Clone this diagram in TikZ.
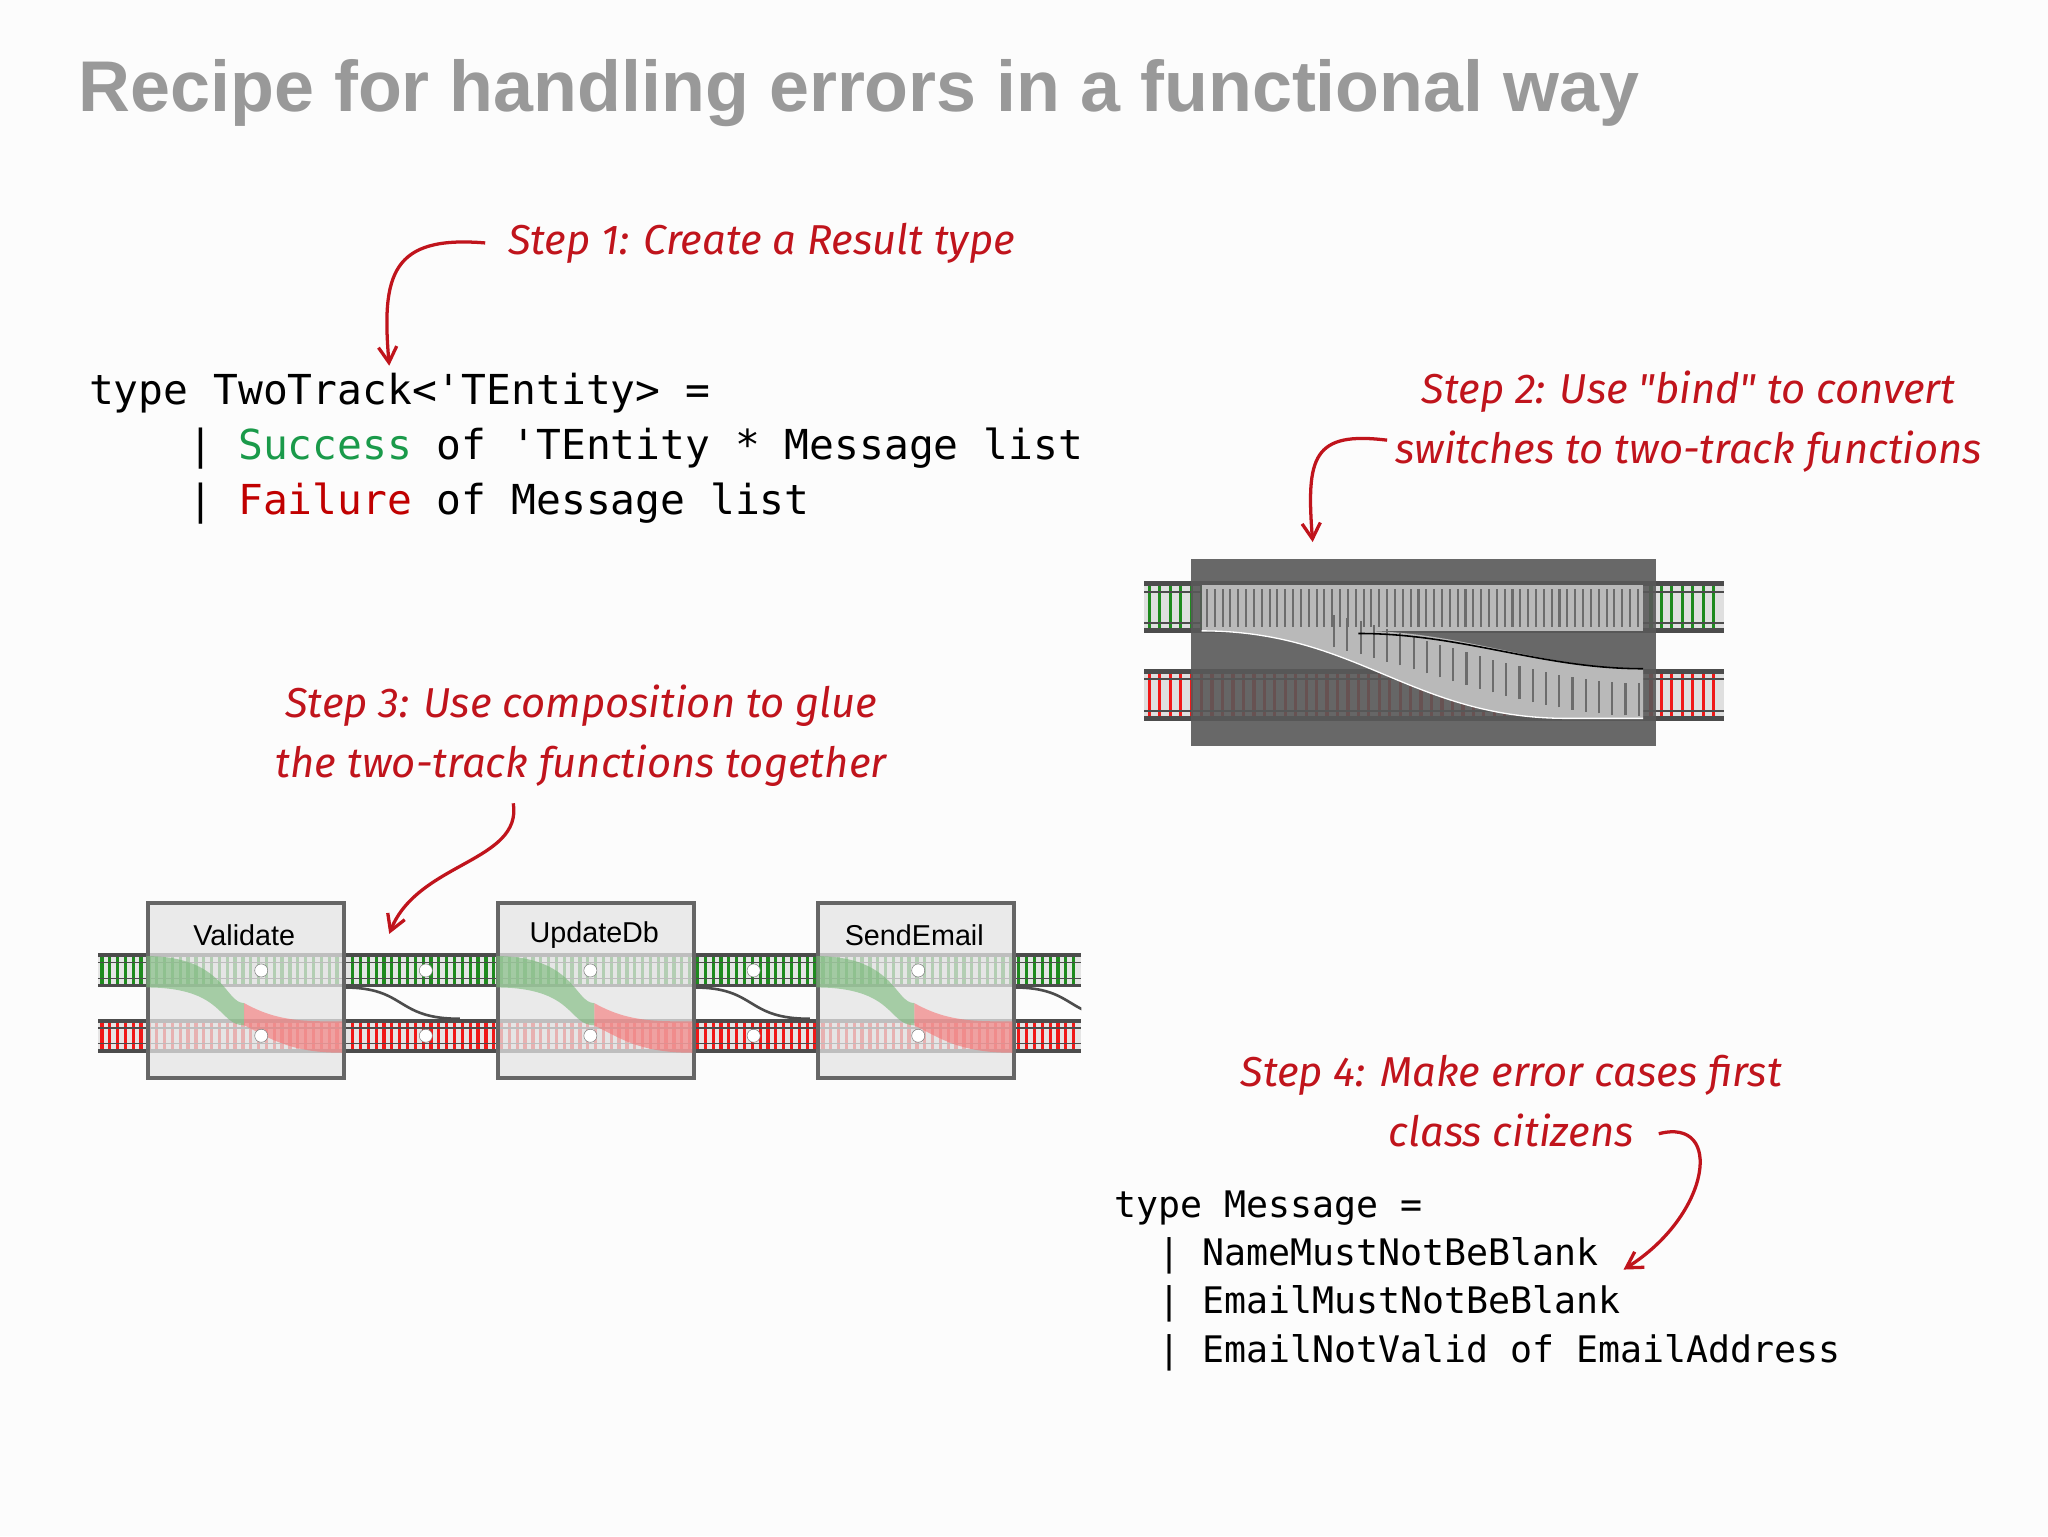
\documentclass[tikz,border=0pt]{standalone}
\usepackage{fontspec}
\setmainfont{Liberation Sans}
\newfontfamily\hand{Fira Sans}
\newfontfamily\mono{DejaVu Sans Mono}
\usetikzlibrary{arrows.meta}
\definecolor{hred}{HTML}{C0141C}
\definecolor{sgreen}{HTML}{1A9A4A}
\definecolor{fred}{HTML}{C00000}
\definecolor{tgreen}{HTML}{1E8A1E}
\definecolor{tred}{HTML}{F01818}
\begin{document}
\begin{tikzpicture}[x=1pt,y=-1pt,
  hstep/.style={font=\hand\itshape\fontsize{32}{46}\selectfont, text=hred, align=center},
  harrow/.style={draw=hred, line width=2.5pt, -{Straight Barb[length=12pt,width=14pt]}},
  mcode/.style={font=\mono\fontsize{31.6}{42}\selectfont, anchor=base west, inner sep=0},
  mcode2/.style={font=\mono\fontsize{28}{36}\selectfont, anchor=base west, inner sep=0},
  fbox/.style={draw=gray!80!black, line width=3pt, fill=gray!20, fill opacity=0.75, minimum width=150pt, minimum height=134pt, anchor=north west},
  lbl/.style={font=\fontsize{22}{24}\selectfont, anchor=center}]
\useasboundingbox (0,0) rectangle (1568,1176);
\fill[white!98!gray] (0,0) rectangle (1568,1176);
% title
\node[anchor=base west, inner sep=0, text=gray!80, font=\bfseries\fontsize{55}{64}\selectfont] (title) at (60,85) {Recipe for handling errors in a functional way};
% step 1
\node[hstep] (s1) at (583,186) {Step 1: Create a Result type};
\coordinate (c1) at (298,280);
\draw[harrow] ([xshift=-14pt]s1.west) .. controls (300,180) and (292,210) .. (c1);
\node[mcode] (l1) at (68,310) {type TwoTrack<'TEntity> =};
\node[mcode] (l2) at (68,352) {\ \ \ \ | \textcolor{sgreen}{Success} of 'TEntity * Message list};
\node[mcode] (l3) at (68,394) {\ \ \ \ | \textcolor{fred}{Failure} of Message list};
% step 2
\node[hstep] (s2) at (1293,323) {Step 2: Use "bind" to convert\\switches to two-track functions};
\coordinate (c2) at (1005,415);
\draw[harrow] (1062,337) .. controls (1005,330) and (1000,350) .. (c2);
% switch picture
\begin{scope}
\fill[gray!60!black] (876,512) rectangle (1320,552);
\fill[gray!25] (876,516) rectangle (1320,548);
\foreach \x in {880,888,...,1316} \draw[tred, line width=2.5pt] (\x,516) -- (\x,548);
\draw[black!70, line width=1.5pt] (876,520) -- (1320,520) (876,544) -- (1320,544);
\fill[gray!60!black] (876,445) rectangle (1320,485);
\fill[gray!25] (876,449) rectangle (1320,481);
\foreach \x in {880,888,...,1316} \draw[tgreen, line width=2.5pt] (\x,449) -- (\x,481);
\draw[black!70, line width=1.5pt] (876,453) -- (1320,453) (876,477) -- (1320,477);
\node[fill=gray!70!black, fill opacity=0.9, minimum width=356pt, minimum height=143pt, anchor=north west, inner sep=0] (sw) at (912,428) {};
\fill[gray!55] (920,448) rectangle (1258,483);
\foreach \x in {924,930,...,1256} \draw[gray!85!black, line width=1.6pt] (\x,451) -- (\x,480);
\fill[gray!55] (920,483) .. controls (1040,483) and (1080,550) .. (1200,550) -- (1258,550) -- (1258,512) .. controls (1180,512) and (1120,483) .. (1040,483) -- cycle;
\foreach \t in {0.3,0.33,...,1} \draw[gray!85!black, line width=1.6pt] ({920+338*\t},{483+67*\t*\t*(3-2*\t)-2}) -- ++(0,-25);
\draw[white, line width=1pt] (920,483) .. controls (1040,483) and (1080,550) .. (1200,550) -- (1258,550);
\draw[black, line width=1.2pt] (1040,485) .. controls (1120,485) and (1180,512) .. (1258,512);
\end{scope}
% step 3
\node[hstep] (s3) at (445,563) {Step 3: Use composition to glue\\the two-track functions together};
\coordinate (c3) at (298,715);
\draw[harrow] (393,615) .. controls (400,660) and (320,660) .. (c3);
% tracks
\foreach \y/\c in {743/tgreen,793/tred}{
  \fill[gray!60!black] (75,\y-13) rectangle (828,\y+13);
  \fill[gray!20] (75,\y-10) rectangle (828,\y+10);
  \foreach \x in {78,84,...,826} \draw[\c, line width=2.5pt] (\x,\y-10) -- (\x,\y+10);
  \draw[black!70, line width=1.2pt] (75,\y-6) -- (828,\y-6) (75,\y+6) -- (828,\y+6);
}
\begin{scope}
\clip (75,700) rectangle (828,820);
\foreach \bx in {112,380,625}{
  \draw[gray!60!black, line width=2pt] (\bx+151,756) .. controls (\bx+200,756) and (\bx+190,780) .. (\bx+240,780);
}
\end{scope}
\node[fbox] (b1) at (112,690) {};
\node[fbox] (b2) at (380,690) {};
\node[fbox] (b3) at (625,690) {};
\foreach \bx in {112,380,625}{
  \fill[tgreen!60, opacity=0.6] (\bx,732) .. controls (\bx+60,732) and (\bx+60,768) .. (\bx+75,768) -- (\bx+75,785) .. controls (\bx+55,785) and (\bx+60,756) .. (\bx,756) -- cycle;
  \fill[tred!60, opacity=0.6] (\bx+75,768) .. controls (\bx+100,782) and (\bx+120,782) .. (\bx+150,782) -- (\bx+150,806) .. controls (\bx+110,806) and (\bx+95,795) .. (\bx+75,785) -- cycle;
}
\node[lbl] (t1) at (187,716) {Validate};
\node[lbl] (t2) at (455,716) {UpdateDb};
\node[lbl] (t3) at (700,716) {SendEmail};
\foreach \x in {200,326,452,577,703}{
  \fill[white, draw=gray] (\x,743) circle (5pt);
  \fill[white, draw=gray] (\x,793) circle (5pt);
}
% step 4
\node[hstep] (s4) at (1157,843) {Step 4: Make error cases first\\class citizens};
\coordinate (c4) at (1243,972);
\draw[harrow] (1270,868) .. controls (1320,855) and (1310,930) .. (c4);
\node[mcode2] (m1) at (853,932) {type Message =};
\node[mcode2] (m2) at (853,969) {\ \ | NameMustNotBeBlank};
\node[mcode2] (m3) at (853,1006) {\ \ | EmailMustNotBeBlank};
\node[mcode2] (m4) at (853,1043) {\ \ | EmailNotValid of EmailAddress};
\end{tikzpicture}
\end{document}
